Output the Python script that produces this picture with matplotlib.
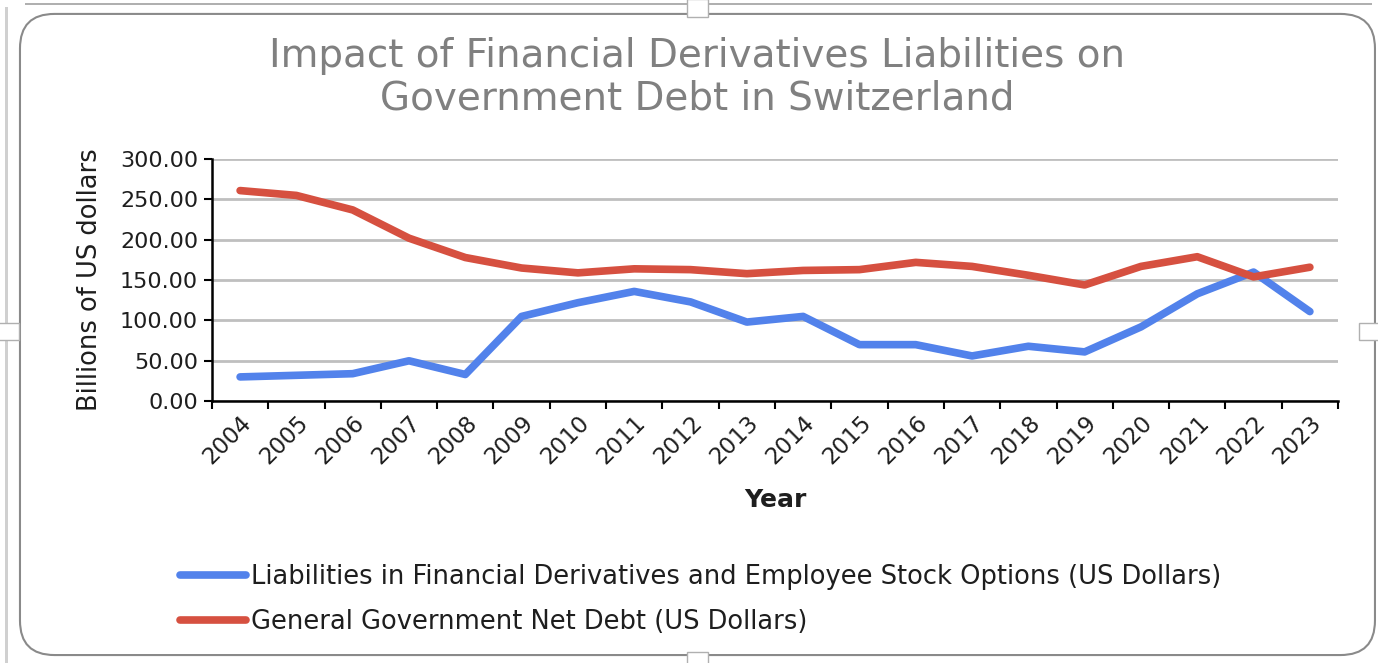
#importing the required libraries
import numpy as np
from matplotlib import pyplot as plt
from matplotlib.patches import FancyBboxPatch, Rectangle

#chart data (billions of US dollars)
years = [str(y) for y in range(2004, 2024)]
derivatives = [30, 32, 34, 50, 33, 105, 122, 136, 123, 98, 105, 70, 70, 56, 68, 61, 92, 133, 160, 111]
net_debt = [261, 255, 237, 202, 178, 165, 159, 164, 163, 158, 162, 163, 172, 167, 156, 144, 167, 179, 154, 166]
y_ticks = [0, 50, 100, 150, 200, 250, 300]

blue = '#5282EB'
red = '#D65040'
ink = '#1e1e1e'

plt.rcParams['font.family'] = ['DejaVu Sans']

fig = plt.figure(figsize=(13.78, 6.63), dpi=100)

#rounded chart border and screenshot frame
fig.patches.append(Rectangle((0.0035, 0.0), 0.002, 0.99, transform=fig.transFigure,
                             facecolor='#d0d0d0', edgecolor='none', zorder=-3))
fig.patches.append(Rectangle((0.018, 0.992), 0.978, 0.004, transform=fig.transFigure,
                             facecolor='#b0b0b0', edgecolor='none', zorder=-3))
fig.patches.append(FancyBboxPatch((0.0145, 0.012), 0.9833, 0.967, transform=fig.transFigure,
                                  boxstyle='round,pad=0,rounding_size=0.025',
                                  facecolor='white', edgecolor='#8a8a8a', linewidth=1.5,
                                  mutation_aspect=13.78 / 6.63, zorder=-2))
for hx, hy in [(0.506, 0.988), (0.506, 0.004), (0.006, 0.5), (0.994, 0.5)]:
    fig.patches.append(Rectangle((hx - 0.0075, hy - 0.013), 0.015, 0.026, transform=fig.transFigure,
                                 facecolor='white', edgecolor='#b0b0b0', linewidth=1, zorder=-1))

ax = fig.add_axes([0.1538, 0.395, 0.8172, 0.365])
ax.set_facecolor('none')
x = np.arange(len(years))
ax.plot(x, derivatives, color=blue, linewidth=5.5, solid_capstyle='round', solid_joinstyle='round',
        label='Liabilities in Financial Derivatives and Employee Stock Options (US Dollars)', zorder=3)
ax.plot(x, net_debt, color=red, linewidth=5.5, solid_capstyle='round', solid_joinstyle='round',
        label='General Government Net Debt (US Dollars)', zorder=3)

ax.set_xlim(-0.5, len(years) - 0.5)
ax.set_ylim(0, 300)
ax.set_yticks(y_ticks)
ax.set_yticklabels(['%.2f' % v for v in y_ticks], fontsize=16, color=ink)
ax.yaxis.grid(True, color='#bfbfbf', linewidth=2)
ax.set_axisbelow(True)

ax.set_xticks(np.arange(-0.5, len(years)), minor=False)
ax.set_xticklabels([])
ax.set_xticks(x, minor=True)
ax.set_xticklabels(years, minor=True, rotation=45, ha='right', rotation_mode='anchor',
                   fontsize=16.5, color=ink)
ax.tick_params(axis='x', which='major', direction='out', length=6, width=1.5)
ax.tick_params(axis='x', which='minor', length=0, pad=7)
ax.tick_params(axis='y', direction='out', length=6, width=1.5, pad=4)

for s in ['top', 'right']:
    ax.spines[s].set_visible(False)
ax.spines['left'].set_linewidth(1.8)
ax.spines['bottom'].set_linewidth(1.8)

ax.set_xlabel('Year', fontsize=18, fontweight='bold', labelpad=14, color=ink)
ax.set_ylabel('Billions of US dollars', fontsize=18.5, labelpad=12, color=ink)

fig.text(0.506, 0.884, 'Impact of Financial Derivatives Liabilities on\nGovernment Debt in Switzerland',
         ha='center', va='center', fontsize=28, color='#808080', linespacing=1.15)

fig.legend(loc='upper left', bbox_to_anchor=(180 / 1378, 0.15), frameon=False, fontsize=18.5,
           handlelength=2.55, handletextpad=0.2, labelspacing=0.75, borderpad=0, borderaxespad=0,
           labelcolor=ink)

fig.savefig('out.png', dpi=100)
